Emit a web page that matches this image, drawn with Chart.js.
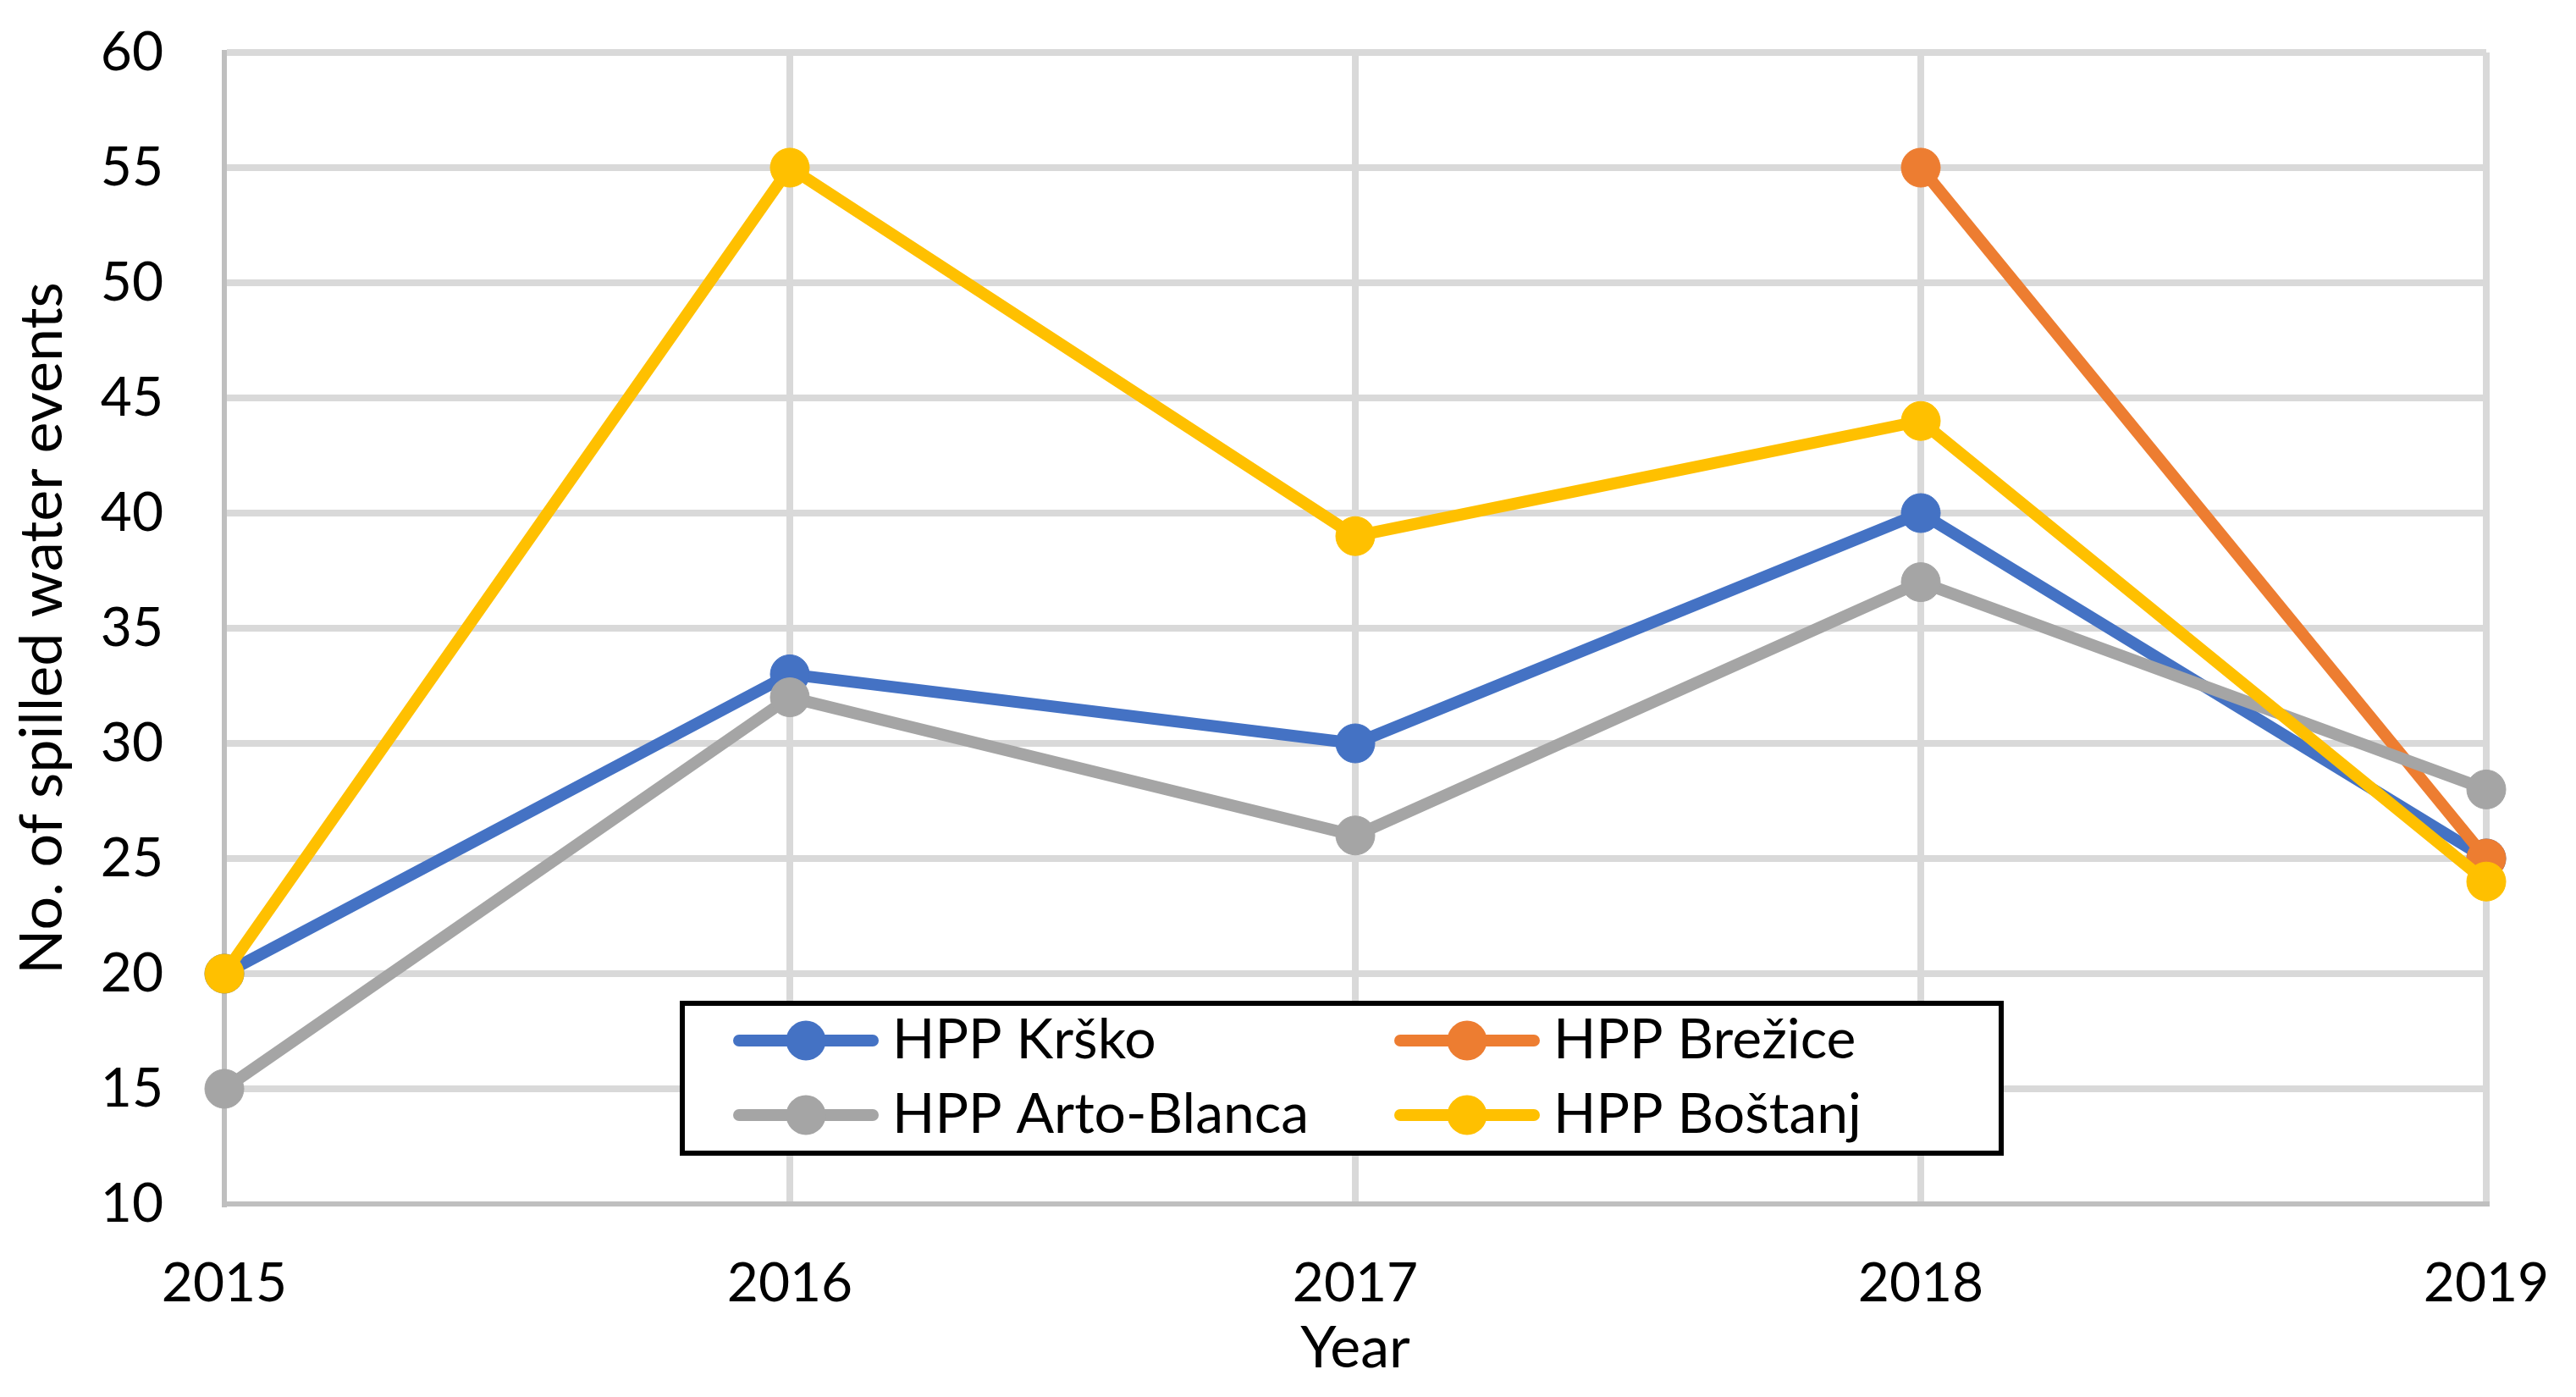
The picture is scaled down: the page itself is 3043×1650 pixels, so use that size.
<!DOCTYPE html>
<html>
<head>
<meta charset="utf-8">
<script src="https://cdn.jsdelivr.net/npm/chart.js@4.4.0/dist/chart.umd.min.js"></script>
<style>
html,body{margin:0;padding:0;background:#fff;overflow:hidden}
#wrap{width:3043px;height:1650px;position:relative;background:#fff}
canvas{display:block}
</style>
</head>
<body>
<div id="wrap"><canvas id="c" width="3043" height="1650"></canvas></div>
<script>
// ---- data ----
const years = ['2015', '2016', '2017', '2018', '2019'];
const krsko = [20, 33, 30, 40, 25];
const brezice = [null, null, null, 55, 25];
const artoBlanca = [15, 32, 26, 37, 28];
const bostanj = [20, 55, 39, 44, 24];
const seriesNames = ['HPP Krško', 'HPP Brežice', 'HPP Arto-Blanca', 'HPP Boštanj'];
const yMin = 10, yMax = 60, yStep = 5;
const xTitle = 'Year';
const yTitle = 'No. of spilled water events';

// ---- style ----
const FONT = 'Lato';
const FS = 64;
const colors = ['#4472C4', '#ED7D31', '#A5A5A5', '#FFC000'];
const GRID = '#D9D9D9';
const AXIS = '#BFBFBF';

function ds(label, data, color, order) {
  return {
    label, data,
    borderColor: color, backgroundColor: color,
    pointBackgroundColor: color, pointBorderColor: color,
    borderWidth: 14, pointRadius: 23, pointBorderWidth: 1,
    pointHoverRadius: 23, tension: 0, clip: false, order,
    spanGaps: false, fill: false
  };
}

const legendPlugin = {
  id: 'boxLegend',
  afterDraw(chart) {
    const ctx = chart.ctx;
    ctx.save();
    const bx = 806, by = 1185, bw = 1558, bh = 177;
    ctx.fillStyle = '#fff';
    ctx.fillRect(bx, by, bw, bh);
    ctx.lineWidth = 6;
    ctx.strokeStyle = '#000';
    ctx.strokeRect(bx, by, bw, bh);
    const rowsY = [1229, 1317];
    const colX = [866, 1647];
    const sampleW = 172;
    chart.data.datasets.forEach((d, i) => {
      const col = i % 2, row = Math.floor(i / 2);
      const x0 = colX[col], y = rowsY[row];
      ctx.strokeStyle = d.borderColor;
      ctx.lineWidth = 14;
      ctx.lineCap = 'round';
      ctx.beginPath();
      ctx.moveTo(x0 + 7, y);
      ctx.lineTo(x0 + sampleW - 7, y);
      ctx.stroke();
      ctx.fillStyle = d.borderColor;
      ctx.beginPath();
      ctx.arc(x0 + sampleW / 2, y, 23.5, 0, Math.PI * 2);
      ctx.fill();
      ctx.fillStyle = '#000';
      ctx.font = '66px ' + FONT;
      ctx.textAlign = 'left';
      ctx.textBaseline = 'middle';
      ctx.fillText(d.label, x0 + sampleW + 16, y);
    });
    ctx.restore();
  }
};

function build() {
  const gridColor = (c) => (c.index === 0 ? 'rgba(0,0,0,0)' : GRID);
  new Chart(document.getElementById('c'), {
    type: 'line',
    data: {
      labels: years,
      datasets: [
        ds(seriesNames[0], krsko, colors[0], 4),
        ds(seriesNames[1], brezice, colors[1], 3),
        ds(seriesNames[2], artoBlanca, colors[2], 2),
        ds(seriesNames[3], bostanj, colors[3], 1)
      ]
    },
    options: {
      responsive: false,
      devicePixelRatio: 1,
      animation: false,
      events: [],
      layout: { padding: { top: 62, right: 106, bottom: 0, left: 0 } },
      plugins: { legend: { display: false }, tooltip: { enabled: false }, title: { display: false } },
      scales: {
        x: {
          type: 'category',
          offset: false,
          grid: { color: gridColor, lineWidth: 8, drawTicks: false },
          border: { display: true, color: AXIS, width: 6 },
          ticks: { color: '#000', font: { family: FONT, size: FS }, padding: 56, maxRotation: 0, autoSkip: false },
          title: { display: true, text: xTitle, color: '#000', font: { family: FONT, size: 68 }, padding: { top: 0, bottom: 16 } },
          afterFit: (s) => { s.height = 228; s.paddingLeft = 0; s.paddingRight = 0; }
        },
        y: {
          min: yMin, max: yMax,
          grid: { color: gridColor, lineWidth: 8, drawTicks: false },
          border: { display: true, color: AXIS, width: 6 },
          ticks: { stepSize: yStep, color: '#000', font: { family: FONT, size: FS }, padding: 72 },
          title: { display: true, text: yTitle, color: '#000', font: { family: FONT, size: 70 }, padding: { top: 8, bottom: 0 } },
          afterFit: (s) => { s.width = 265; s.paddingTop = 0; s.paddingBottom = 0; }
        }
      }
    },
    plugins: [legendPlugin]
  });
}

if (document.fonts && document.fonts.load) {
  document.fonts.load(FS + 'px ' + FONT).then(build, build);
} else {
  build();
}
</script>
</body>
</html>
